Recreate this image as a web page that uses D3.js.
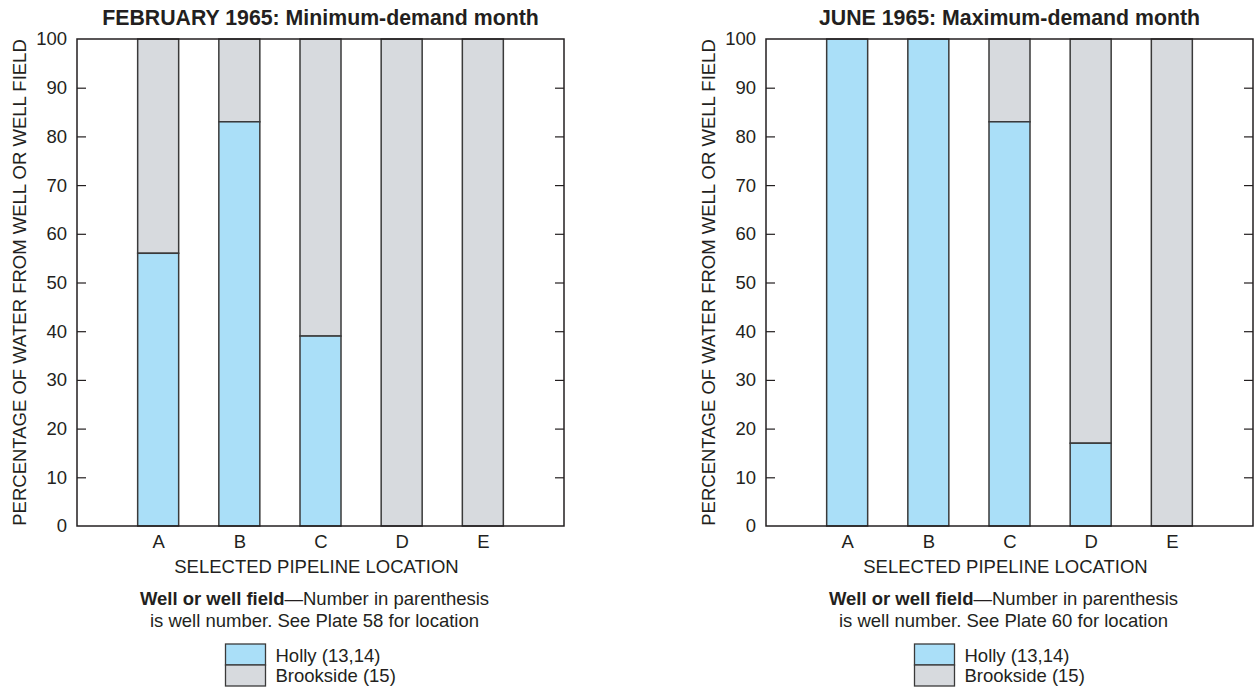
<!DOCTYPE html>
<html lang="en">
<head>
<meta charset="UTF-8">
<title>Pipeline water source</title>
<script src="https://d3js.org/d3.v7.min.js"></script>
<style>
  body { margin: 0; background: #fff; }
  text { font-family: "Liberation Sans", Arial, sans-serif; fill: #231f20; }
</style>
</head>
<body>
<script>
// data
const locations = ["A", "B", "C", "D", "E"];
const febHolly = [56, 83, 39, 0, 0];
const junHolly = [100, 100, 83, 17, 0];
const yTicks = [0, 10, 20, 30, 40, 50, 60, 70, 80, 90, 100];
const seriesNames = ["Holly (13,14)", "Brookside (15)"];
const colors = ["#aadff8", "#d7dade"];

const panels = [
  { title: "FEBRUARY 1965: Minimum-demand month", holly: febHolly, plate: "58", left: 77 },
  { title: "JUNE 1965: Maximum-demand month", holly: junHolly, plate: "60", left: 766 }
];

const W = 1257, H = 690;
const plotW = 487, plotTop = 39, plotBottom = 526;

const svg = d3.select("body").append("svg")
  .attr("width", W).attr("height", H);

const y = d3.scaleLinear().domain([0, 100]).range([plotBottom, plotTop]);
const x = d3.scalePoint().domain(locations).range([0, plotW]).padding(1);
const barW = 41;

panels.forEach(p => {
  const g = svg.append("g").attr("transform", `translate(${p.left},0)`);
  const cx = plotW / 2;

  // title
  g.append("text")
    .attr("x", cx).attr("y", 25)
    .attr("text-anchor", "middle")
    .style("font-size", "21.3px").style("font-weight", "bold")
    .text(p.title);

  // bars: brookside on top part, holly below
  const rows = locations.map((loc, i) => ({ loc, holly: p.holly[i] }));
  g.selectAll(".brook").data(rows.filter(d => d.holly < 100)).enter().append("rect")
    .attr("x", d => x(d.loc) - barW / 2)
    .attr("y", y(100))
    .attr("width", barW)
    .attr("height", d => y(d.holly) - y(100))
    .attr("fill", colors[1])
    .attr("stroke", "#3a3a3a").attr("stroke-width", 1.5);
  g.selectAll(".holly").data(rows.filter(d => d.holly > 0)).enter().append("rect")
    .attr("x", d => x(d.loc) - barW / 2)
    .attr("y", d => y(d.holly))
    .attr("width", barW)
    .attr("height", d => y(0) - y(d.holly))
    .attr("fill", colors[0])
    .attr("stroke", "#3a3a3a").attr("stroke-width", 1.5);

  // frame
  g.append("rect")
    .attr("x", 0).attr("y", plotTop).attr("width", plotW).attr("height", plotBottom - plotTop)
    .attr("fill", "none").attr("stroke", "#231f20").attr("stroke-width", 1.5);

  // y axis ticks inward + labels
  const yl = g.append("g");
  yl.call(d3.axisLeft(y).tickValues(yTicks).tickSize(-9).tickPadding(10));
  yl.select(".domain").remove();
  yl.selectAll("line").attr("stroke", "#231f20").attr("stroke-width", 1.2);
  yl.selectAll("text").style("font-size", "18.5px").attr("fill", "#231f20");
  yl.selectAll(".tick").filter(d => d === 0 || d === 100).select("line").remove();

  const yr = g.append("g").attr("transform", `translate(${plotW},0)`);
  yr.call(d3.axisRight(y).tickValues(yTicks.filter(d => d > 0 && d < 100)).tickSize(-9).tickFormat(""));
  yr.select(".domain").remove();
  yr.selectAll("line").attr("stroke", "#231f20").attr("stroke-width", 1.2);

  // x axis labels
  const xa = g.append("g").attr("transform", `translate(0,${plotBottom})`);
  xa.call(d3.axisBottom(x).tickSize(0).tickPadding(9));
  xa.select(".domain").remove();
  xa.selectAll("text").style("font-size", "18.5px").attr("fill", "#231f20");

  g.append("text")
    .attr("x", cx - 4).attr("y", 573)
    .attr("text-anchor", "middle")
    .style("font-size", "18.5px")
    .text("SELECTED PIPELINE LOCATION");

  g.append("text")
    .attr("transform", "rotate(-90)")
    .attr("x", -(plotTop + plotBottom) / 2).attr("y", -51)
    .attr("text-anchor", "middle")
    .style("font-size", "18.5px")
    .text("PERCENTAGE OF WATER FROM WELL OR WELL FIELD");

  // legend
  const lg = g.append("g");
  const lt = lg.append("text")
    .attr("x", cx - 6).attr("y", 605)
    .attr("text-anchor", "middle")
    .style("font-size", "18.5px");
  lt.append("tspan").style("font-weight", "bold").text("Well or well field");
  lt.append("tspan").text("\u2014Number in parenthesis");
  lg.append("text")
    .attr("x", cx - 6).attr("y", 627)
    .attr("text-anchor", "middle")
    .style("font-size", "18.5px")
    .text("is well number. See Plate " + p.plate + " for location");

  seriesNames.forEach((s, i) => {
    lg.append("rect")
      .attr("x", cx - 95).attr("y", 644 + i * 21)
      .attr("width", 40).attr("height", 21)
      .attr("fill", colors[i]).attr("stroke", "#3a3a3a").attr("stroke-width", 1.3);
    lg.append("text")
      .attr("x", cx - 45).attr("y", 662 + i * 20)
      .style("font-size", "18.5px")
      .text(s);
  });
});
</script>
</body>
</html>
